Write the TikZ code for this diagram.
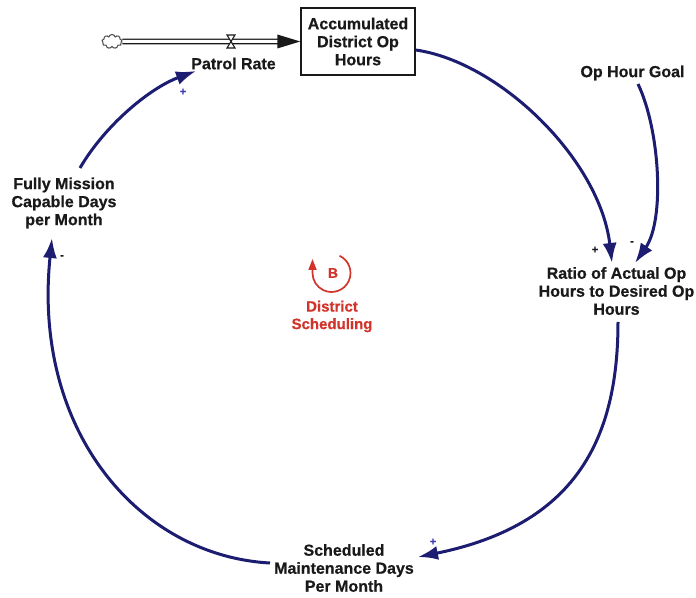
\documentclass[tikz,border=0pt]{standalone}
\usepackage{fontspec}
\setmainfont{Liberation Sans}[BoldFeatures={FakeBold=0.6}]
\usetikzlibrary{arrows.meta,shapes.symbols,calc}
\definecolor{linkblue}{RGB}{28,28,112}
\definecolor{loopred}{RGB}{208,52,42}
\definecolor{ink}{RGB}{25,25,25}
\definecolor{signblue}{RGB}{60,60,175}
\begin{document}
\begin{tikzpicture}[x=1pt,y=1pt,
  var/.style={font=\bfseries\fontsize{16}{18}\selectfont, text=ink, align=center, inner sep=1pt},
  link/.style={draw=linkblue, line width=3pt, -{Latex[length=20pt,width=14pt]}},
  pol/.style={font=\bfseries\fontsize{11}{11}\selectfont, inner sep=0pt},
  pipe/.style={draw=ink, line width=1.4pt, double=white, double distance=3pt},
]
\useasboundingbox (0,0) rectangle (696,597);

% stock and its inflow
\node[var, draw=ink, line width=1.4pt, minimum width=114pt, minimum height=67pt]
  (box) at (358,555.5) {Accumulated\\District Op\\Hours};
\node[cloud, cloud puffs=9, aspect=1.5, draw=ink!75, line width=1.1pt,
  minimum width=20pt, minimum height=14pt, inner sep=0pt] (cloud) at (112,555.5) {};
\draw[pipe] (cloud.east) -- ([xshift=-20pt]box.west);
\fill[ink] ([xshift=-23pt,yshift=7pt]box.west) -- (box.west)
  -- ([xshift=-23pt,yshift=-7pt]box.west) -- cycle;
\coordinate (valve) at (231,555.5);
\filldraw[fill=white, draw=ink, line width=1.1pt]
  ($(valve)+(-4,6.5)$) -- ($(valve)+(4,6.5)$) -- (valve) -- cycle;
\filldraw[fill=white, draw=ink, line width=1.1pt]
  ($(valve)+(-4,-6.5)$) -- ($(valve)+(4,-6.5)$) -- (valve) -- cycle;

% variables
\node[var] (patrol) at (233.5,533.5) {Patrol Rate};
\node[var] (goal) at (632.5,524) {Op Hour Goal};
\node[var] (ratio) at (616.5,306) {Ratio of Actual Op\\Hours to Desired Op\\Hours};
\node[var] (sched) at (344,29) {Scheduled\\Maintenance Days\\Per Month};
\node[var] (fully) at (64,394) {Fully Mission\\Capable Days\\per Month};

% causal links
\draw[link] ([yshift=-8.5pt]box.east) .. controls (500,535) and (600,437) .. ($(ratio)+(-4.5,28)$);
\draw[link] ($(goal)+(5.5,-11)$) .. controls (660,467) and (665,377) .. ($(ratio)+(18.5,28)$);
\draw[link] ($(ratio)+(1.5,-31)$) .. controls (618,157) and (575,72) .. ($(sched)+(74,11)$);
\draw[link] ($(sched)+(-74,5)$) .. controls (140,41) and (32,165) .. ($(fully)+(-12,-35)$);
\draw[link] ($(fully)+(16,35)$) .. controls (105,472) and (150,509) .. ($(patrol)+(-37.5,-7.5)$);

% link polarities
\node[pol, text=signblue] (p1) at (183,505) {+};
\node[pol, text=ink] (p2) at (595,347) {+};
\node[pol, text=ink] (p3) at (632,354) {-};
\node[pol, text=signblue] (p4) at (433,55) {+};
\node[pol, text=ink] (p5) at (62,340) {-};

% balancing loop marker
\coordinate (loop) at (331.5,324);
\draw[loopred, line width=1.7pt, -{Triangle[length=11pt,width=8pt]}]
  ([shift={(65:19)}]loop) arc[start angle=65, end angle=-180, radius=19] -- ++(0,14);
\node[font=\bfseries\fontsize{14}{14}\selectfont, text=loopred] (bl) at (333,324) {B};
\node[font=\bfseries\fontsize{15}{17.5}\selectfont, text=loopred, align=center]
  (dist) at (332,280.5) {District\\Scheduling};
\end{tikzpicture}
\end{document}
